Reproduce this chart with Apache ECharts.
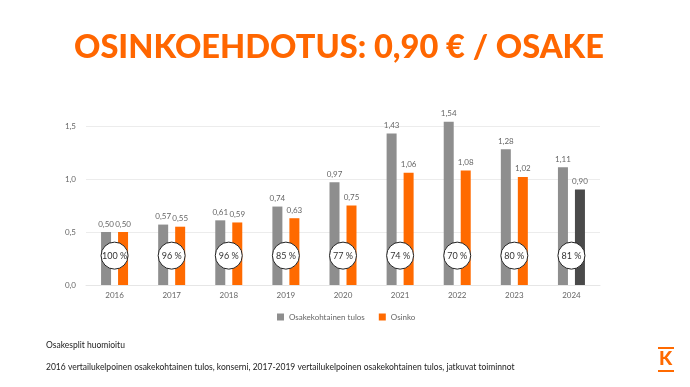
<!DOCTYPE html>
<html>
<head>
<meta charset="utf-8">
<script src="https://cdn.jsdelivr.net/npm/echarts@6/dist/echarts.min.js"></script>
<style>html,body{margin:0;padding:0;background:#fff;}#c{width:690px;height:387px;}</style>
</head>
<body>
<div id="c"></div>
<script>
var years = ['2016','2017','2018','2019','2020','2021','2022','2023','2024'];
var eps = [0.50,0.57,0.61,0.74,0.97,1.43,1.54,1.28,1.11];
var dividend = [0.50,0.55,0.59,0.63,0.75,1.06,1.08,1.02,0.90];
var payout = ['100 %','96 %','96 %','85 %','77 %','74 %','70 %','80 %','81 %'];
var yTicks = [0, 0.5, 1.0, 1.5];

var GRAY = '#8e8e8e', ORANGE = '#ff6a00', DARK = '#4a4a4a';
var fmt = function (v) { return v.toFixed(2).replace('.', ','); };

var chart = echarts.init(document.getElementById('c'));
chart.setOption({
  backgroundColor: '#fff',
  animation: false,
  title: {
    text: 'OSINKOEHDOTUS: 0,90 € / OSAKE',
    left: 69, top: 26,
    textStyle: { color: '#ff6600', fontSize: 32.6, fontWeight: 900, fontFamily: 'Lato' }
  },
  grid: { left: 86, right: 90, top: 126, bottom: 102 },
  legend: {
    data: ['Osakekohtainen tulos', 'Osinko'],
    left: 272, top: 308, itemWidth: 7, itemHeight: 7, itemGap: 14,
    icon: 'rect',
    textStyle: { fontSize: 8, color: '#666', fontFamily: 'Lato' }
  },
  xAxis: {
    type: 'category', data: years,
    axisLine: { lineStyle: { color: '#e6e6e6' } },
    axisTick: { show: false },
    axisLabel: { fontSize: 8, color: '#666', fontFamily: 'Lato', margin: 6 }
  },
  yAxis: {
    type: 'value', min: yTicks[0], max: yTicks[yTicks.length - 1], interval: 0.5,
    axisLine: { show: false }, axisTick: { show: false },
    splitLine: { lineStyle: { color: '#ececec' } },
    axisLabel: { fontSize: 8, color: '#666', fontFamily: 'Lato', margin: 10,
      formatter: function (v) { return v.toFixed(1).replace('.', ','); } }
  },
  series: [
    {
      name: 'Osakekohtainen tulos', type: 'bar', data: eps, clip: false,
      barWidth: 10, barGap: '70%',
      itemStyle: { color: GRAY },
      label: { show: true, position: 'top', distance: 4, fontSize: 8, color: '#666', fontFamily: 'Lato',
        formatter: function (p) { return fmt(p.value); } }
    },
    {
      name: 'Osinko', type: 'bar', barWidth: 10, clip: false,
      data: dividend.map(function (v, i) {
        return i === dividend.length - 1 ? { value: v, itemStyle: { color: DARK } } : v;
      }),
      itemStyle: { color: ORANGE },
      label: { show: true, position: 'top', distance: 4, fontSize: 8, color: '#666', fontFamily: 'Lato',
        formatter: function (p) { return fmt(p.value); } }
    },
    {
      name: 'payout', type: 'scatter', z: 5,
      data: payout.map(function (p, i) { return [i, 0.277]; }),
      symbolSize: 27,
      itemStyle: { color: '#fff', borderColor: '#222', borderWidth: 1, opacity: 1 },
      label: { show: true, position: 'inside', fontSize: 9, color: '#333', fontFamily: 'Lato',
        formatter: function (p) { return payout[p.dataIndex]; } },
      tooltip: { show: false }
    }
  ],
  graphic: [
    { type: 'text', left: 46, top: 341, style: { text: 'Osakesplit huomioitu', fontSize: 8.5, fill: '#222', fontFamily: 'Lato' } },
    { type: 'text', left: 46, top: 363, style: { text: '2016 vertailukelpoinen osakekohtainen tulos, konserni, 2017-2019 vertailukelpoinen osakekohtainen tulos, jatkuvat toiminnot', fontSize: 8.5, fill: '#222', fontFamily: 'Lato' } },
    { type: 'rect', shape: { x: 658, y: 347, width: 16, height: 2 }, style: { fill: ORANGE } },
    { type: 'text', left: 659, top: 349, style: { text: 'K', fontSize: 19, fontWeight: 900, fill: ORANGE, fontFamily: 'Lato' } },
    { type: 'rect', shape: { x: 658, y: 370, width: 16, height: 2 }, style: { fill: ORANGE } }
  ]
});
</script>
</body>
</html>
